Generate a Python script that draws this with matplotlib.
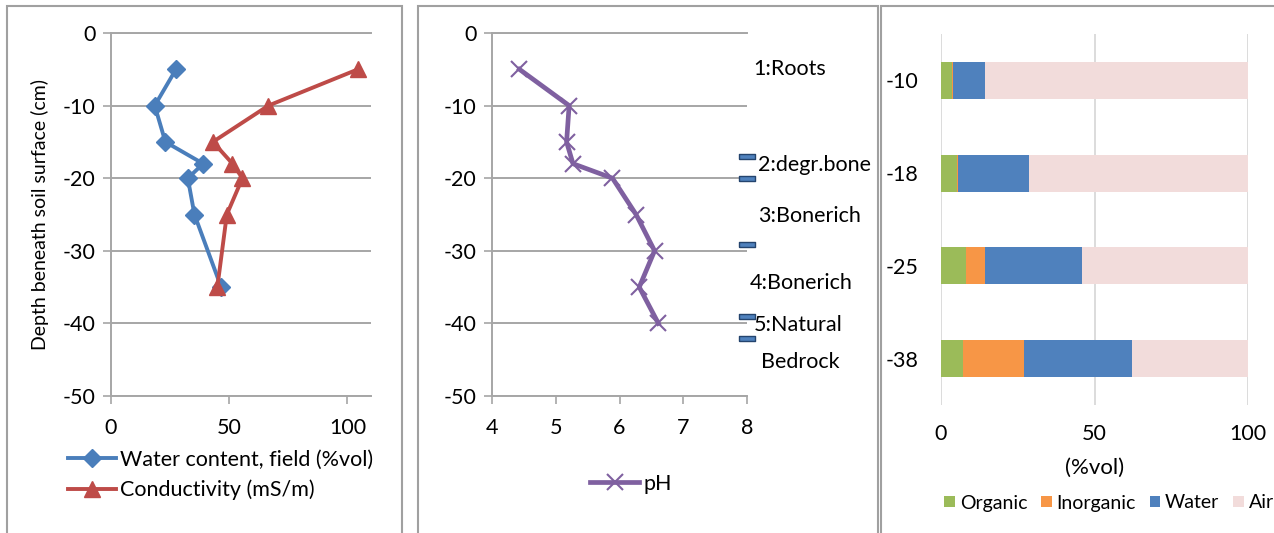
import matplotlib
matplotlib.use("Agg")
import matplotlib.pyplot as plt
from matplotlib.patches import Rectangle

plt.rcParams['font.family'] = ['Lato', 'DejaVu Sans']
plt.rcParams['axes.unicode_minus'] = False

# profile depths (cm)
depth = [-5, -10, -15, -18, -20, -25, -35]
water_content = [27.5, 18.5, 23, 39, 32.5, 35.3, 46.6]
conductivity = [104.5, 66.6, 43.1, 51.4, 55.6, 49, 45]

ph_depth = [-5, -10, -15, -18, -20, -25, -30, -35, -40]
ph = [4.43, 5.21, 5.17, 5.27, 5.89, 6.26, 6.55, 6.31, 6.61]

# layer boundaries drawn at the right edge of the pH plot
boundary_x = [8, 8, 8, 8, 8]
boundary_depth = [-17, -20, -29, -39, -42]

layer_labels = ["1:Roots", "2:degr.bone", "3:Bonerich", "4:Bonerich", "5:Natural", "Bedrock"]
label_x = [8.1, 8.17, 8.17, 8.04, 8.1, 8.22]
label_depth = [-4.9, -18.2, -25.2, -34.5, -40.2, -45.3]

# volume fractions per sample depth
bar_depths = ["-10", "-18", "-25", "-38"]
organic = [3.7, 5.2, 8.1, 7.1]
inorganic = [0.2, 0.3, 6.1, 20.0]
water = [10.3, 23.1, 31.6, 35.2]
air = [85.8, 71.4, 54.2, 37.7]

W, H = 1274, 533
fig = plt.figure(figsize=(W / 100, H / 100), dpi=100)

def box(l, t, r, b):
    return [l / W, 1 - b / H, (r - l) / W, (b - t) / H]

# panel frames
for l, r in [(7, 402), (418, 878), (881, 1290)]:
    fig.add_artist(Rectangle((l / W, -0.1), (r - l) / W, (1 - 6 / H) + 0.1,
                             transform=fig.transFigure, fill=False,
                             ec='#A0A0A0', lw=1.5))

grid_c = '#A6A6A6'
tick_fs = 15.5
leg_fs = 15.5

def style_line_axes(ax):
    ax.set_ylim(-50, 0)
    ax.set_yticks(range(-50, 1, 10))
    ax.yaxis.grid(True, color=grid_c, lw=1.4)
    ax.set_axisbelow(True)
    ax.spines['right'].set_visible(False)
    for s in ['left', 'bottom', 'top']:
        ax.spines[s].set_color(grid_c)
        ax.spines[s].set_linewidth(1.4)
    ax.tick_params(direction='out', length=6, width=1.2, color=grid_c,
                   labelsize=tick_fs, pad=5)
    ax.tick_params(axis='x', pad=10)

# water content and conductivity
ax1 = fig.add_axes(box(111, 33, 371, 396))
ax1.plot(water_content, depth, color='#4A7EBB', lw=2.8, marker='D', ms=9.5,
         label='Water content, field (%vol)')
ax1.plot(conductivity, depth, color='#BE4B48', lw=2.8, marker='^', ms=11,
         label='Conductivity (mS/m)')
ax1.set_xlim(0, 110)
ax1.set_xticks([0, 50, 100])
style_line_axes(ax1)
ax1.set_ylabel('Depth beneath soil surface (cm)', fontsize=14, labelpad=10)
ax1.legend(loc='upper left', bbox_to_anchor=(68 / W, 1 - 450 / H),
           bbox_transform=fig.transFigure, frameon=False, fontsize=leg_fs,
           handlelength=2.25, handletextpad=0.15, labelspacing=0.45,
           borderpad=0, borderaxespad=0)

# pH profile
ax2 = fig.add_axes(box(492, 33, 747, 396))
ax2.plot(ph, ph_depth, color='#7F60A0', lw=3.4, marker='x', ms=12, mew=1.5,
         label='pH')
ax2.plot(boundary_x, boundary_depth, ls='none',
         marker=[(-1, -0.3), (1, -0.3), (1, 0.3), (-1, 0.3), (-1, -0.3)],
         ms=12, mfc='#4F81BD', mec='#24446E', mew=1, clip_on=False, zorder=5)
for txt, x, y in zip(layer_labels, label_x, label_depth):
    ax2.text(x, y, txt, fontsize=15.5, va='center', ha='left', clip_on=False)
ax2.set_xlim(4, 8)
ax2.set_xticks([4, 5, 6, 7, 8])
style_line_axes(ax2)
ax2.legend(loc='center', bbox_to_anchor=(631 / W, 1 - 484 / H),
           bbox_transform=fig.transFigure, frameon=False, fontsize=leg_fs,
           handlelength=2.25, handletextpad=0.2, borderpad=0)

# stacked composition bars
ax3 = fig.add_axes(box(941, 34, 1248, 405))
pos = range(len(bar_depths))
left = [0] * len(bar_depths)
for vals, col, name in [(organic, '#9BBB59', 'Organic'),
                        (inorganic, '#F79646', 'Inorganic'),
                        (water, '#4F81BD', 'Water'),
                        (air, '#F2DCDB', 'Air')]:
    ax3.barh(pos, vals, left=left, height=0.4, color=col, label=name)
    left = [a + b for a, b in zip(left, vals)]
ax3.set_ylim(3.5, -0.5)
ax3.set_yticks(list(pos))
ax3.set_yticklabels(bar_depths)
ax3.set_xlim(0, 100)
ax3.set_xticks([0, 50, 100])
ax3.xaxis.grid(True, color='#D9D9D9', lw=1.3)
ax3.set_axisbelow(True)
for s in ax3.spines.values():
    s.set_visible(False)
ax3.tick_params(length=0, labelsize=tick_fs)
ax3.tick_params(axis='x', pad=14)
ax3.tick_params(axis='y', pad=16)
ax3.set_xlabel('(%vol)', fontsize=16, labelpad=10)
ax3.legend(loc='center', bbox_to_anchor=(1109 / W, 1 - 503 / H),
           bbox_transform=fig.transFigure, frameon=False, fontsize=14,
           ncol=4, handlelength=0.55, handleheight=0.55, handletextpad=0.25,
           columnspacing=0.7, borderpad=0)

fig.savefig('out.png', dpi=100)
